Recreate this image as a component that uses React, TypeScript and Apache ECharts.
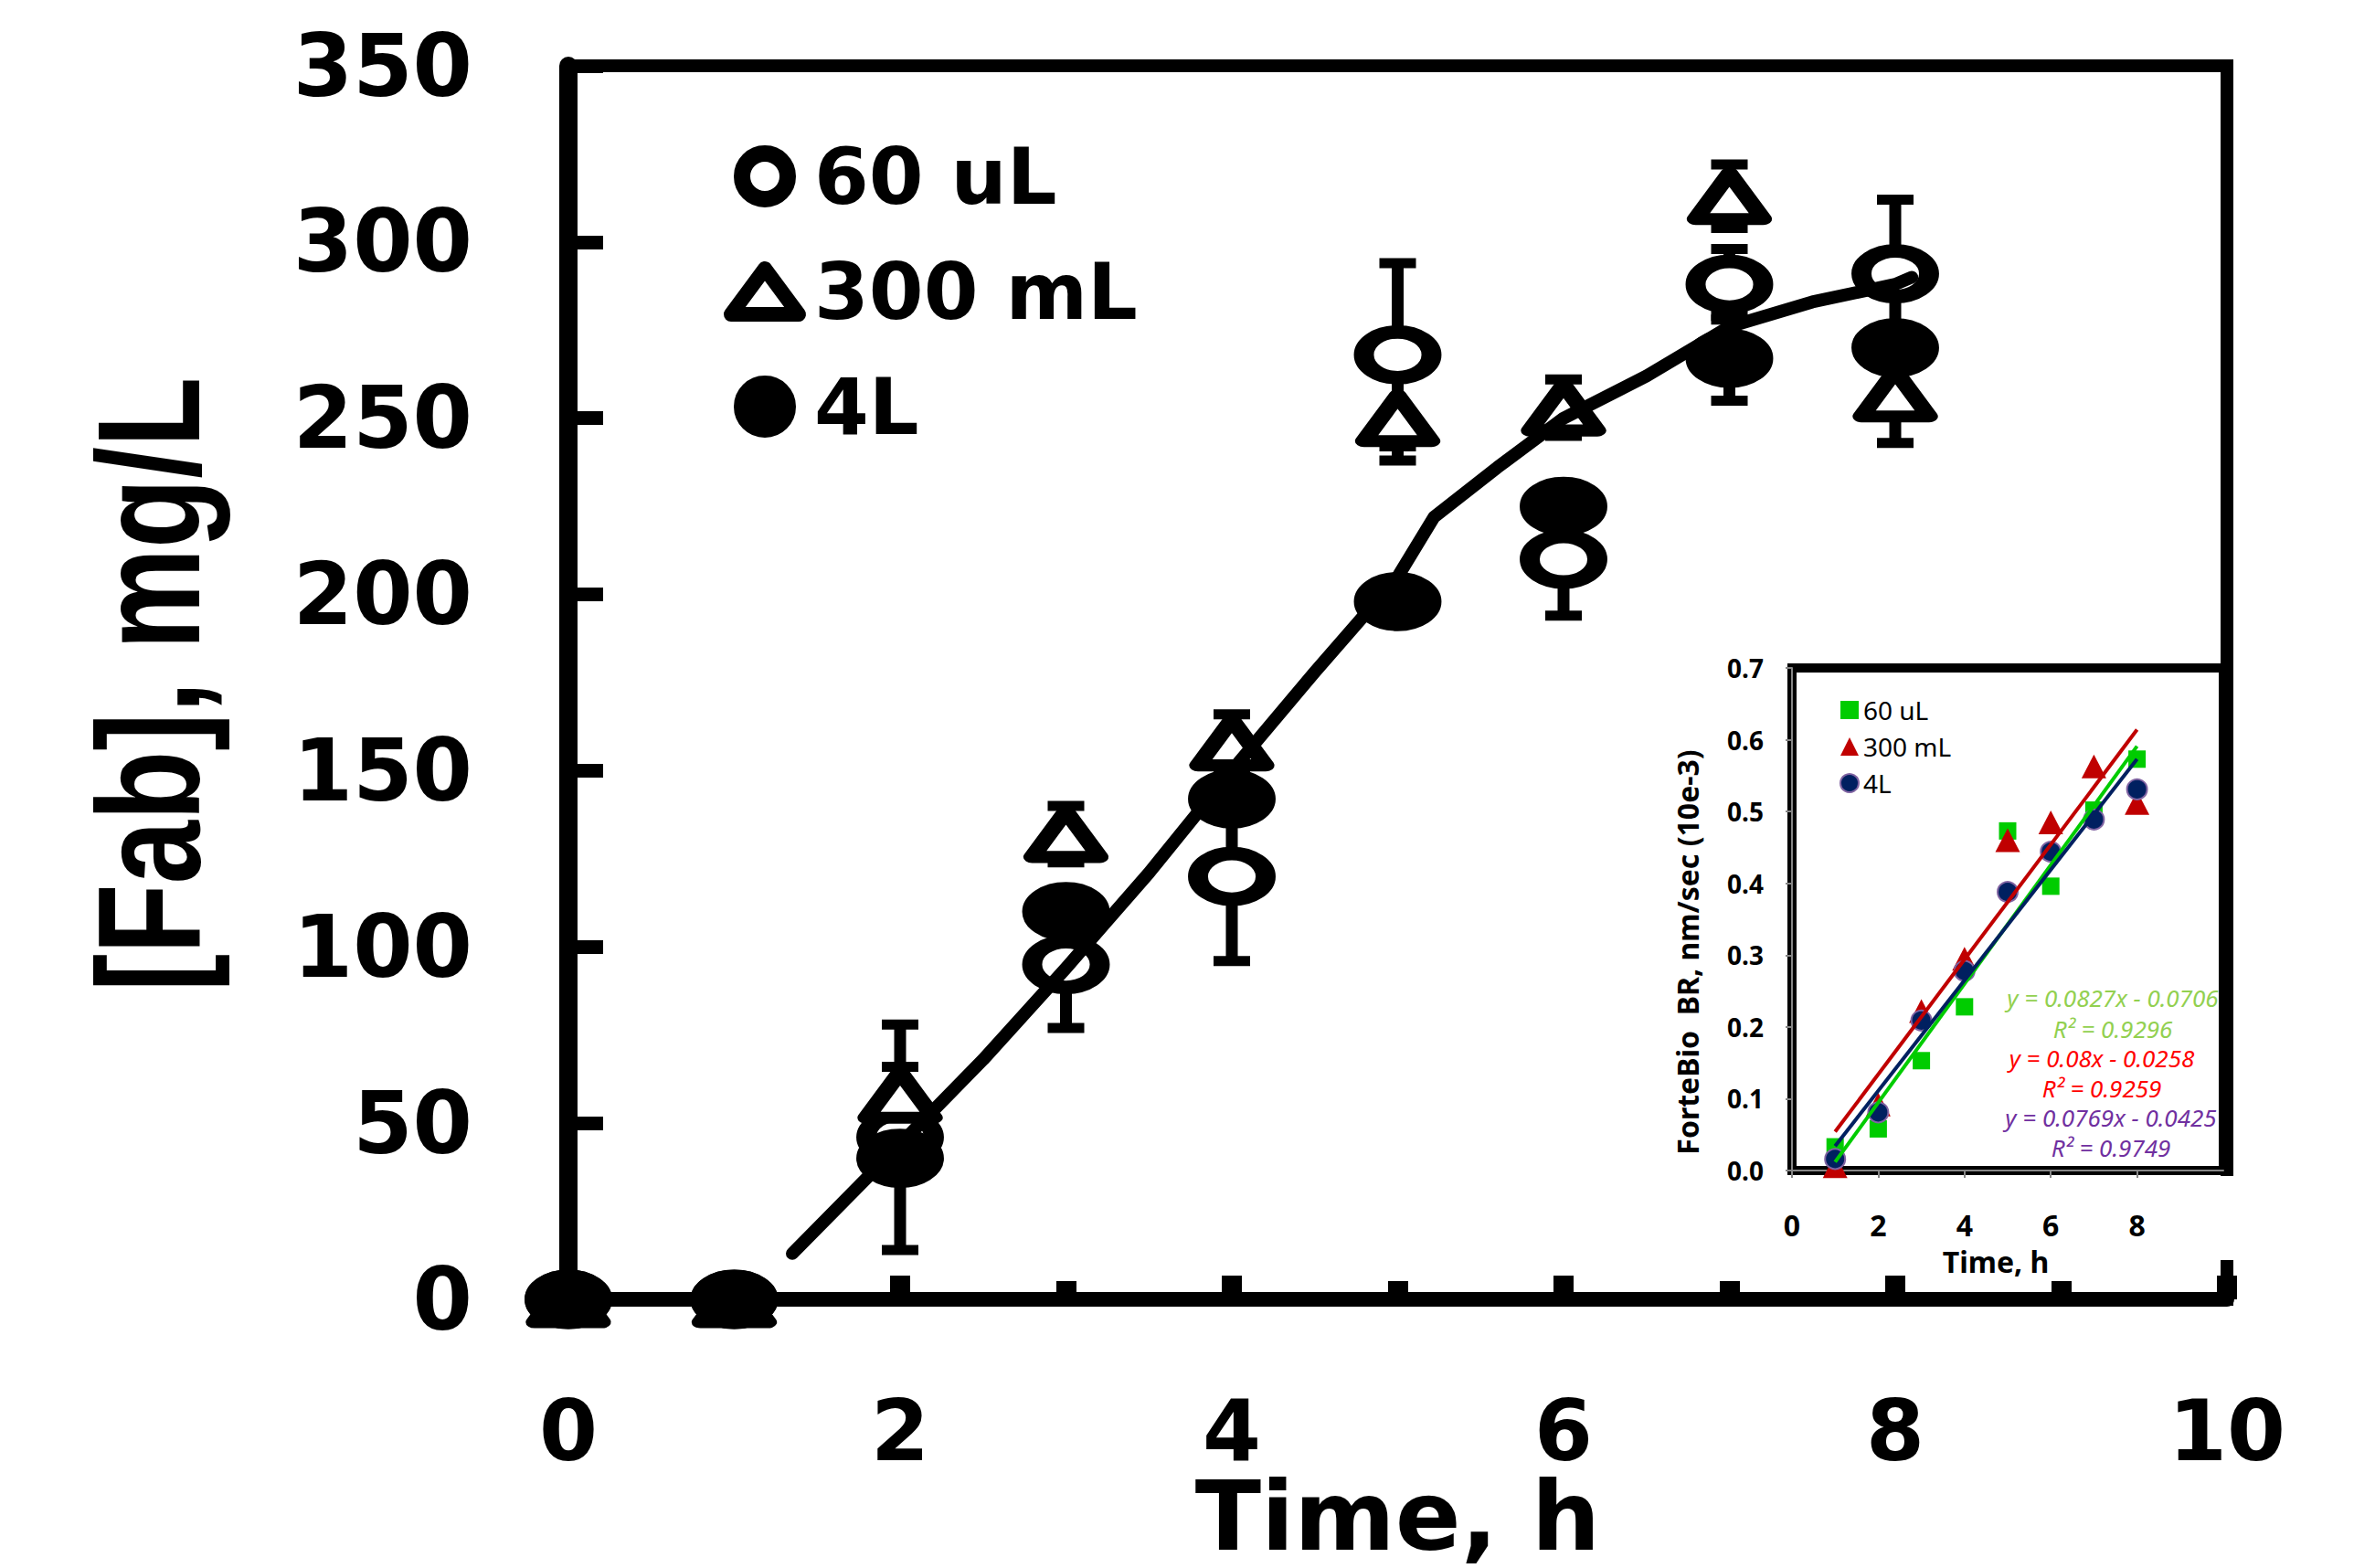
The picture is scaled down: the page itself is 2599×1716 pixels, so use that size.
import React, { useEffect, useRef } from 'react';
import * as echarts from 'echarts';

// ---- Main chart data ----
const times = [0, 1, 2, 3, 4, 5, 6, 7, 8];
const fab60uL = [0, 0, 46, 95, 120, 268, 210, 288, 291];
const err60uL = [0, 0, 32, 18, 24, 26, 16, 10, 21];
const fab300mL = [0, 0, 58, 132, 158, 250, 253, 313, 257];
const err300mL = [0, 0, 8, 8, 8, 12, 8, 9, 14];
const fab4L = [0, 0, 40, 110, 142, 198, 225, 267, 270];
const err4L = [0, 0, 0, 0, 0, 0, 0, 12, 0];

const fitTime = [1.35, 2, 2.5, 3, 3.5, 4, 4.5, 5, 5.22, 5.6, 6, 6.5, 7, 7.5, 8, 8.1];
const fitFab = [13, 44, 68, 94, 121, 150, 178, 205, 222, 236, 250, 262, 276, 283, 288, 290];

const seriesNames = ['60 uL', '300 mL', '4L'];

// ---- Inset data ----
const insetTimes = [1, 2, 3, 4, 5, 6, 7, 8];
const br60uL = [0.033, 0.058, 0.153, 0.228, 0.473, 0.396, 0.502, 0.573];
const br300mL = [0.006, 0.092, 0.222, 0.295, 0.46, 0.485, 0.563, 0.512];
const br4L = [0.016, 0.081, 0.209, 0.278, 0.388, 0.444, 0.489, 0.531];
const trendTime = [1, 8];
const trend60uL = [0.012, 0.591];
const trend300mL = [0.054, 0.614];
const trend4L = [0.034, 0.573];
const insetNames = ['BR 60 uL', 'BR 300 mL', 'BR 4L'];
const equationLines = [
  'y = 0.0827x - 0.0706',
  'R² = 0.9296',
  'y = 0.08x - 0.0258',
  'R² = 0.9259',
  'y = 0.0769x - 0.0425',
  'R² = 0.9749',
];
const equationColors = ['#92D050', '#92D050', '#FF0000', '#FF0000', '#7030A0', '#7030A0'];
const equationPos = [
  [2312, 1092], [2312, 1126], [2300, 1158], [2300, 1191], [2310, 1223], [2310, 1256],
];

const ellipsePath = 'path://M0,50A50,50,0,1,1,100,50A50,50,0,1,1,0,50Z';

function errorSeries(vals: number[], errs: number[]) {
  return {
    type: 'custom',
    xAxisIndex: 0,
    yAxisIndex: 0,
    z: 3,
    silent: true,
    clip: false,
    encode: { x: 0, y: 1 },
    data: times.map((t, i) => [t, vals[i], errs[i]]).filter((d) => d[2] > 0),
    renderItem: (params: any, api: any) => {
      const x = api.value(0);
      const y = api.value(1);
      const e = api.value(2);
      const top = api.coord([x, y + e]);
      const bot = api.coord([x, y - e]);
      const hw = 20;
      return {
        type: 'group',
        children: [
          { type: 'line', shape: { x1: top[0], y1: top[1], x2: bot[0], y2: bot[1] }, style: { stroke: '#000', lineWidth: 13 } },
          { type: 'line', shape: { x1: top[0] - hw, y1: top[1], x2: top[0] + hw, y2: top[1] }, style: { stroke: '#000', lineWidth: 11 } },
          { type: 'line', shape: { x1: bot[0] - hw, y1: bot[1], x2: bot[0] + hw, y2: bot[1] }, style: { stroke: '#000', lineWidth: 11 } },
        ],
      };
    },
  };
}

const bigFont = { fontFamily: 'DejaVu Sans', fontWeight: 'bold', color: '#000' };
const insetFont = { fontFamily: 'Noto Sans', fontWeight: 'bold', color: '#000' };

export default function App() {
  const ref = useRef<HTMLDivElement>(null);
  useEffect(() => {
    if (!ref.current) return;
    const chart = echarts.init(ref.current, undefined, { renderer: 'svg' });
    const option: any = {
      animation: false,
      backgroundColor: '#fff',
      grid: [
        { left: 622, top: 72, width: 1815, height: 1350, show: true, borderColor: '#000', borderWidth: 14, z: 0, outerBoundsMode: 'none', containLabel: false },
        { left: 1961, top: 731, width: 472, height: 550, show: true, borderColor: '#000', borderWidth: 10, backgroundColor: '#fff', z: 3, outerBoundsMode: 'none', containLabel: false },
      ],
      xAxis: [
        {
          gridIndex: 0, type: 'value', min: 0, max: 10, interval: 2, z: 1,
          axisLine: { show: true, lineStyle: { color: '#000', width: 16 } },
          axisTick: { show: true, inside: true, length: 26, lineStyle: { color: '#000', width: 22 } },
          minorTick: { show: true, splitNumber: 2, length: 20, lineStyle: { color: '#000', width: 22 } },
          splitLine: { show: false },
          axisLabel: { ...bigFont, fontSize: 92, lineHeight: 60, margin: 114 },
          name: 'Time, h', nameLocation: 'middle', nameGap: 184, nameMoveOverlap: false,
          nameTextStyle: { ...bigFont, fontSize: 106, lineHeight: 106 },
        },
        {
          gridIndex: 1, type: 'value', min: 0, max: 10, interval: 2, z: 4, offset: 3,
          axisLine: { show: true, lineStyle: { color: '#868686', width: 2 } },
          axisTick: { show: true, inside: false, length: 8, lineStyle: { color: '#868686', width: 2 } },
          splitLine: { show: false },
          axisLabel: { ...insetFont, fontSize: 32, margin: 40, showMaxLabel: false },
          name: 'Time, h', nameLocation: 'middle', nameGap: 80,
          nameTextStyle: { ...insetFont, fontSize: 32, padding: [0, 26, 0, 0] },
        },
      ],
      yAxis: [
        {
          gridIndex: 0, type: 'value', min: 0, max: 350, interval: 50, z: 1,
          axisLine: { show: true, lineStyle: { color: '#000', width: 20 } },
          axisTick: { show: true, inside: true, length: 38, lineStyle: { color: '#000', width: 15 } },
          splitLine: { show: false },
          axisLabel: { ...bigFont, fontSize: 94, margin: 105 },
        },
        {
          gridIndex: 1, type: 'value', min: 0, max: 0.7, interval: 0.1, z: 4, offset: 7,
          axisLine: { show: true, lineStyle: { color: '#868686', width: 2 } },
          axisTick: { show: true, inside: false, length: 7, lineStyle: { color: '#868686', width: 2 } },
          splitLine: { show: false },
          axisLabel: { ...insetFont, fontSize: 28, margin: 24, formatter: (v: number) => v.toFixed(1) },
          name: 'ForteBio  BR, nm/sec (10e-3)', nameLocation: 'middle', nameGap: 92, nameRotate: 90,
          nameTextStyle: { ...insetFont, fontSize: 32, padding: [0, 72, 0, 0] },
        },
      ],
      legend: [
        {
          data: seriesNames, orient: 'vertical', left: 792, top: 150, padding: 0,
          itemWidth: 74, itemHeight: 50, itemGap: 40, selectedMode: false,
          itemStyle: { borderWidth: 'inherit' },
          textStyle: { ...bigFont, fontSize: 86, lineHeight: 86, padding: [0, 0, 0, 12] },
        },
        {
          data: insetNames, orient: 'vertical', left: 2013, top: 763, padding: 0,
          itemWidth: 20, itemHeight: 20, itemGap: 12, selectedMode: false, z: 8,
          formatter: (n: string) => n.replace('BR ', ''),
          textStyle: { fontFamily: 'Noto Sans', fontSize: 28, lineHeight: 28, color: '#000' },
        },
      ],
      graphic: [
        { type: 'rect', shape: { x: 1790, y: 1287, width: 660, height: 92 }, style: { fill: '#fff' }, z: 2 },
        {
          type: 'text', x: 162, y: 749, rotation: Math.PI / 2, scaleX: 0.78, z: 5,
          style: {
            text: '[Fab], mg/L', fontFamily: 'Liberation Sans', fontWeight: 'bold', fontSize: 160, fill: '#000',
            align: 'center', verticalAlign: 'middle', textAlign: 'center', textVerticalAlign: 'middle',
          },
        },
        ...equationLines.map((t, i) => ({
          type: 'text', x: equationPos[i][0], y: equationPos[i][1], z: 9,
          style: {
            text: t, fontFamily: 'Noto Sans', fontStyle: 'italic', fontSize: 26, fill: equationColors[i],
            align: 'center', verticalAlign: 'middle', textAlign: 'center', textVerticalAlign: 'middle',
          },
        })),
      ],
      series: [
        errorSeries(fab60uL, err60uL),
        errorSeries(fab300mL, err300mL),
        errorSeries(fab4L, err4L),
        {
          name: '60 uL', type: 'scatter', xAxisIndex: 0, yAxisIndex: 0, z: 4, clip: false,
          symbol: ellipsePath, symbolSize: [74, 50],
          itemStyle: { color: '#fff', borderColor: '#000', borderWidth: 18, opacity: 1 },
          data: times.map((t, i) => [t, fab60uL[i]]),
        },
        {
          name: '300 mL', type: 'scatter', xAxisIndex: 0, yAxisIndex: 0, z: 4, clip: false,
          symbol: 'triangle', symbolSize: [74, 50],
          itemStyle: { color: '#fff', borderColor: '#000', borderWidth: 16, borderJoin: 'round', opacity: 1 },
          data: times.map((t, i) => [t, fab300mL[i]]),
        },
        {
          name: '4L', type: 'scatter', xAxisIndex: 0, yAxisIndex: 0, z: 4, clip: false,
          symbol: ellipsePath, symbolSize: [74, 50],
          itemStyle: { color: '#000', borderColor: '#000', borderWidth: 18, opacity: 1 },
          data: times.map((t, i) => [t, fab4L[i]]),
        },
        {
          type: 'line', xAxisIndex: 0, yAxisIndex: 0, z: 5, showSymbol: false, silent: true, clip: false,
          lineStyle: { color: '#000', width: 14, cap: 'round', join: 'round' },
          data: fitTime.map((t, i) => [t, fitFab[i]]),
        },
        // inset
        {
          name: insetNames[0], type: 'scatter', xAxisIndex: 1, yAxisIndex: 1, z: 6, clip: false,
          symbol: 'rect', symbolSize: 19, itemStyle: { color: '#00CC00', opacity: 1 },
          data: insetTimes.map((t, i) => [t, br60uL[i]]),
        },
        {
          name: insetNames[1], type: 'scatter', xAxisIndex: 1, yAxisIndex: 1, z: 6, clip: false,
          symbol: 'triangle', symbolSize: [27, 26], itemStyle: { color: '#C00000', opacity: 1 },
          data: insetTimes.map((t, i) => [t, br300mL[i]]),
        },
        {
          name: insetNames[2], type: 'scatter', xAxisIndex: 1, yAxisIndex: 1, z: 6, clip: false,
          symbol: 'circle', symbolSize: 22, itemStyle: { color: '#002060', borderColor: '#8064A2', borderWidth: 2, opacity: 1 },
          data: insetTimes.map((t, i) => [t, br4L[i]]),
        },
        {
          type: 'line', xAxisIndex: 1, yAxisIndex: 1, z: 7, showSymbol: false, silent: true,
          lineStyle: { color: '#00CC00', width: 4 },
          data: trendTime.map((t, i) => [t, trend60uL[i]]),
        },
        {
          type: 'line', xAxisIndex: 1, yAxisIndex: 1, z: 7, showSymbol: false, silent: true,
          lineStyle: { color: '#C00000', width: 4 },
          data: trendTime.map((t, i) => [t, trend300mL[i]]),
        },
        {
          type: 'line', xAxisIndex: 1, yAxisIndex: 1, z: 7, showSymbol: false, silent: true,
          lineStyle: { color: '#002060', width: 4 },
          data: trendTime.map((t, i) => [t, trend4L[i]]),
        },
      ],
    };
    chart.setOption(option);
    return () => chart.dispose();
  }, []);
  return <div ref={ref} style={{ position: 'absolute', left: 0, top: 0, width: 2599, height: 1716 }} />;
}
